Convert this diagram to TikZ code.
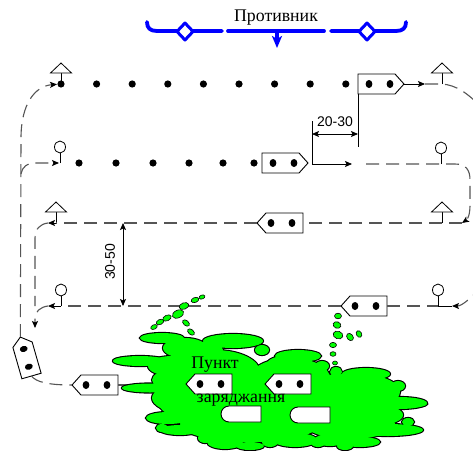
\documentclass[tikz,border=0pt]{standalone}
\usepackage{fontspec}
\setmainfont{Liberation Serif}
\setsansfont{Liberation Sans}
\usetikzlibrary{arrows.meta}

\definecolor{enemyblue}{RGB}{0,0,255}
\definecolor{zonegreen}{RGB}{0,255,0}
\definecolor{routegray}{RGB}{85,85,85}

\tikzset{
  enemy/.style={draw=enemyblue, line width=3.8pt, line cap=round, line join=round},
  hull/.style={draw=black, fill=white, line width=0.9pt},
  route/.style={draw=routegray, line width=1.1pt, dash pattern=on 13pt off 7pt},
  link/.style={draw=black, line width=0.8pt},
  tipA/.style={-{Stealth[length=7pt,width=6pt,inset=1.5pt,color=black]}},
  dimboth/.style={{Stealth[length=7pt,width=6pt,inset=1.5pt]}-{Stealth[length=7pt,width=6pt,inset=1.5pt]}},
  drop/.style={fill=zonegreen, draw=black, line width=0.6pt},
  seriflabel/.style={font=\fontsize{17.8}{21}\selectfont, inner sep=0pt},
  sanslabel/.style={font=\sffamily\fontsize{14}{16}\selectfont, inner sep=0pt},
  ship/.pic={
    \draw[hull] (0,-10) -- (37,-10) -- (46,0) -- (37,10) -- (0,10) -- cycle;
    \fill (11,0) ellipse[x radius=3.4, y radius=4];
    \fill (32,0) ellipse[x radius=3.4, y radius=4];
    \coordinate (-stern) at (0,0);
    \coordinate (-tip) at (46,0);
    \coordinate (-corner) at (0,10);
  },
  tflag/.pic={
    \draw[link] (0,0) -- (0,-11);
    \draw[link, fill=white] (-10.5,-11) -- (10.5,-11) -- (0,-21) -- cycle;
    \coordinate (-base) at (0,0);
  },
  cflag/.pic={
    \draw[link] (0,0) -- (0,-10);
    \draw[link, fill=white] (0,-16) ellipse[x radius=5.5, y radius=6];
    \coordinate (-base) at (0,0);
  },
}

% lobes of the loading area (cx/cy/rx/ry)
\def\zoneparts{270/398/118/27, 215/372/45/22, 290/378/40/20, 358/392/42/18,
  250/424/70/18, 350/424/45/15, 233/341/30/7, 205/350/18/8, 298/356/23/6,
  285/364/18/8, 366/374/24/6, 355/380/20/8, 162/338/22/5, 185/348/22/10,
  140/361/27/5, 134/360/20/3, 172/366/24/10, 150/388/28/4.5, 172/380/20/10,
  168/418/22/6, 185/405/25/12, 180/430/20/5, 400/403/27/6, 408/404/19/3.5,
  388/430/35/6, 378/415/25/10, 360/442/20/5, 225/442/18/7, 295/440/22/7,
  250/446/14/4, 330/440/16/6,
  192/356/7/5, 262/350/7/5, 322/366/7/5, 336/372/6/5, 398/386/7/5,
  408/422/6/4, 160/400/7/5, 162/428/6/4, 205/438/7/5, 270/442/8/5,
  318/443/7/4, 345/446/8/4}

\begin{document}
\begin{tikzpicture}[x=1pt,y=-1pt]
\useasboundingbox (0,0) rectangle (473,450);
\clip (0,0) rectangle (473,450);

% ---- enemy front line ----
\node[seriflabel, anchor=base] (enemytext) at (276,21.5) {Противник};
\draw[enemy] (147,22) .. controls (147,28) and (150,31) .. (157,31) -- (222,31);
\draw[enemy] (228,31) -- (324,31);
\draw[enemy] (331,31) -- (396,31) .. controls (403,31) and (406,28) .. (406,22);
\draw[enemy, line cap=butt, -{Stealth[length=12pt,width=10pt,inset=3pt]}] (277,31) -- (277,48);
\draw[enemy, line width=3pt, fill=white] (185,23) -- (193,31.5) -- (185,40) -- (177,31.5) -- cycle;
\draw[enemy, line width=3pt, fill=white] (367,23) -- (375,31.5) -- (367,40) -- (359,31.5) -- cycle;

% ---- ships ----
\pic (s1) at (358,84) {ship};
\pic (s2) at (262,163) {ship};
\pic[rotate=180] (s3) at (303,223) {ship};
\pic[rotate=180] (s4) at (387,306) {ship};
\pic[rotate=180] (s5) at (118,385) {ship};
\pic[rotate=106, xscale=0.88] (s8) at (31.5,376) {ship};

% ---- flags ----
\pic (f1) at (61,84) {tflag};
\pic (f2) at (442,84) {tflag};
\pic (f3) at (60,163) {cflag};
\pic (f4) at (441,164) {cflag};
\pic (f5) at (56,223) {tflag};
\pic (f6) at (442,223) {tflag};
\pic (f7) at (61,306) {cflag};
\pic (f8) at (438,306) {cflag};

% ---- formation dots ----
\foreach \i in {0,...,8} \fill ({61+35.6*\i},84) circle[radius=3.6];
\foreach \px in {79,116,153,189,223,254} \fill (\px,163) circle[radius=3.6];

% ---- free ends of routes ----
\coordinate (L1) at (21,138);
\coordinate (B1) at (21,174);
\coordinate (R1a) at (425,84);
\coordinate (R1out) at (484,110);
\coordinate (D2a) at (312,121);
\coordinate (D2b) at (312,164);
\coordinate (D2c) at (352,164);
\coordinate (D2d) at (366,164);
\coordinate (E1) at (358,147);
\coordinate (DM1) at (312,134);
\coordinate (DM2) at (358,134);
\coordinate (R3in) at (462,223);
\coordinate (L3a) at (48,223);
\coordinate (L3b) at (35,306);
\coordinate (L4a) at (48,306);
\coordinate (L4b) at (35,328);
\coordinate (R4a) at (452,306);
\coordinate (R4out) at (482,286);
\coordinate (V1) at (123,223);
\coordinate (V2) at (123,306);

% left loop
\draw[route, tipA, shorten >=4pt] (s8-tip) -- (L1) .. controls (21,104) and (35,86) .. (f1-base);
\draw[route, tipA, shorten >=1pt] (B1) .. controls (22,167) and (27,163) .. (36,163) -- (f3-base);

% row 1
\draw[link, tipA] (s1-tip) -- (R1a);
\draw[route] (R1a) -- (f2-base) .. controls (456,85) and (468,93) .. (R1out);

% row 2 and the 20-30 spacing
\draw[link] (D2a) -- (D2b);
\draw[link, tipA] (D2b) -- (D2c);
\draw[link] (s1-corner) -- (E1);
\draw[link, dimboth] (DM1) -- (DM2);
\node[sanslabel] (gap1) at (335,122) {20-30};
\draw[route, tipA] (D2d) -- (f4-base) -- (455,164) .. controls (466,164) and (470,170) .. (470,180)
  -- (470,205) .. controls (470,214) and (468,219) .. (R3in);

% row 3
\draw[route] (R3in) -- (s3-stern);
\draw[route] (s3-tip) -- (f5-base);
\draw[link, tipA] (f5-base) -- (L3a);
\draw[route] (L3a) .. controls (40,224) and (35,229) .. (35,238) -- (L3b);

% row 4
\draw[route] (s4-tip) -- (f7-base);
\draw[link, tipA] (f7-base) -- (L4a);
\draw[route, tipA] (L4a) .. controls (40,307) and (35,312) .. (35,318) -- (L4b);
\draw[route] (s4-stern) -- (f8-base);
\draw[link] (f8-base) -- (R4a);
\draw[route, tipA] (R4out) .. controls (470,299) and (462,306) .. (R4a);

% 30-50 spacing
\draw[link, dimboth] (V1) -- (V2);
\node[sanslabel, rotate=90] (gap2) at (110,262) {30-50};

% bottom approach to the loading area
\draw[route] (s8-stern) .. controls (36,382) and (48,385) .. (s5-tip);
\draw[route] (s5-stern) -- (232,385);

% ---- loading area ----
\foreach \cx/\cy/\rx/\ry in \zoneparts
  \draw[black, line width=2.2pt] (\cx,\cy) ellipse[x radius=\rx, y radius=\ry];
\foreach \cx/\cy/\rx/\ry in \zoneparts
  \fill[zonegreen] (\cx,\cy) ellipse[x radius=\rx, y radius=\ry];

\pic[rotate=180] (s6) at (232,384) {ship};
\pic[rotate=180] (s7) at (311,384) {ship};
\draw[hull] (261,406) -- (229,406) arc[start angle=270, end angle=90, radius=8] -- (261,422) -- cycle;
\draw[hull] (330,407) -- (298,407) arc[start angle=270, end angle=90, radius=8] -- (330,423) -- cycle;
\node[seriflabel, anchor=base] (zone1) at (215,368) {Пункт};
\node[seriflabel, anchor=base] (zone2) at (241,402) {заряджання};

% ---- spray drops ----
\foreach \cx/\cy/\rx/\ry/\ang in {154/327/3.5/2.2/25, 160/322/4/2.5/25, 167/318/4.5/2.8/25,
    178/314/6/3.8/25, 184/306/5/3.2/20, 195/300/4/2.5/20, 202/297/3/2/20,
    186/323/4/2.5/-40, 191/332/4/2.5/-40,
    338/316/3.5/2.8/0, 337/325/4/3.2/-20, 338/335/5/3.8/-20, 350/337/4/3/-50,
    359/334/3.5/2.6/-60, 333/345/3.5/2.6/0, 333/354/3/2.3/0, 335/363/2.5/2/0}
  \draw[drop, shift={(\cx,\cy)}, rotate=\ang] (0,0) ellipse[x radius=\rx, y radius=\ry];

\end{tikzpicture}
\end{document}
